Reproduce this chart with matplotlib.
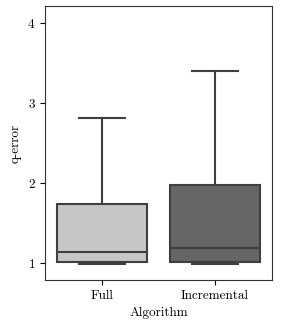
import matplotlib
matplotlib.use("Agg")
import matplotlib.pyplot as plt

plt.rcParams['font.family'] = 'serif'
plt.rcParams['font.serif'] = ['cmr10']
plt.rcParams['axes.formatter.use_mathtext'] = True
plt.rcParams['font.size'] = 9.5

# box stats
algorithms = ["Full", "Incremental"]
q1 = [1.01, 1.01]
medians = [1.14, 1.19]
q3 = [1.74, 1.975]
whis_low = [0.99, 0.99]
whis_high = [2.82, 3.40]
box_colors = ["#c6c6c6", "#666666"]
edge = "#3f3f3f"

stats = []
for i, name in enumerate(algorithms):
    stats.append(dict(label=name, q1=q1[i], med=medians[i], q3=q3[i],
                      whislo=whis_low[i], whishi=whis_high[i], fliers=[]))

fig, ax = plt.subplots(figsize=(2.83, 3.2), dpi=100)
bp = ax.bxp(stats, positions=range(len(algorithms)), widths=0.8,
            patch_artist=True, showfliers=False,
            boxprops=dict(edgecolor=edge, linewidth=1.5),
            medianprops=dict(color=edge, linewidth=1.5),
            whiskerprops=dict(color=edge, linewidth=1.5),
            capprops=dict(color=edge, linewidth=1.5))
for patch, c in zip(bp['boxes'], box_colors):
    patch.set_facecolor(c)

ax.set_xlim(-0.5, 1.5)
ax.set_ylim(0.79, 4.21)
ax.set_yticks([1, 2, 3, 4])
ax.set_xlabel("Algorithm")
ax.set_ylabel("q-error")
for s in ax.spines.values():
    s.set_color("#333333")

fig.subplots_adjust(left=0.16, right=0.96, top=0.98, bottom=0.125)
fig.savefig("out.png", dpi=100)
